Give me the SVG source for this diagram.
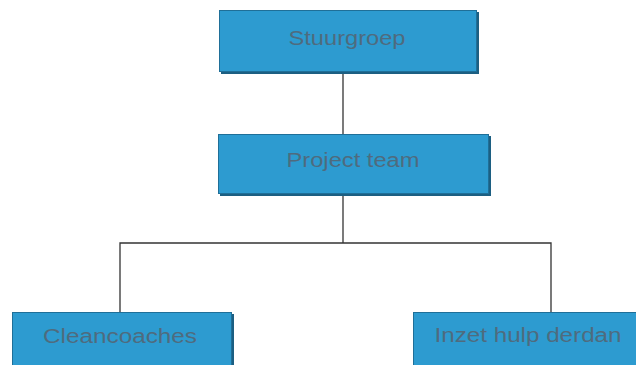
<svg xmlns="http://www.w3.org/2000/svg" width="636" height="365" viewBox="0 0 636 365">
<style>
.box{fill:#2d9bd0;stroke:#1f6f98;stroke-width:1}
.shadow{fill:#1c5f82}
.lbl{font-family:"Liberation Sans",Arial,sans-serif;font-size:20px;fill:#4f6b7e;text-anchor:middle}
.conn{stroke:#333;stroke-width:1.3;fill:none}
</style>
<rect width="636" height="365" fill="#ffffff"/>
<g id="connectors">
<line class="conn" x1="343" y1="72" x2="343" y2="135"/>
<line class="conn" x1="343" y1="194" x2="343" y2="243"/>
<polyline class="conn" points="120,313 120,243 551,243 551,312"/>
</g>
<g id="stuurgroep">
<rect class="shadow" x="221" y="12" width="258" height="62"/>
<rect class="box" x="219.5" y="10.5" width="257" height="61"/>
<text class="lbl" x="347" y="45" textLength="117" lengthAdjust="spacingAndGlyphs">Stuurgroep</text>
</g>
<g id="projectteam">
<rect class="shadow" x="220" y="136" width="271" height="60"/>
<rect class="box" x="218.5" y="134.5" width="270" height="59"/>
<text class="lbl" x="353" y="167" textLength="133" lengthAdjust="spacingAndGlyphs">Project team</text>
</g>
<g id="cleancoaches">
<rect class="shadow" x="14" y="314" width="220" height="55"/>
<rect class="box" x="12.5" y="312.5" width="219" height="55"/>
<text class="lbl" x="120" y="343" textLength="154" lengthAdjust="spacingAndGlyphs">Cleancoaches</text>
</g>
<g id="inzethulp">
<rect class="shadow" x="415" y="314" width="225" height="55"/>
<rect class="box" x="413.5" y="312.5" width="226" height="55"/>
<text class="lbl" x="528" y="342" textLength="187" lengthAdjust="spacingAndGlyphs">Inzet hulp derdan</text>
</g>
</svg>
